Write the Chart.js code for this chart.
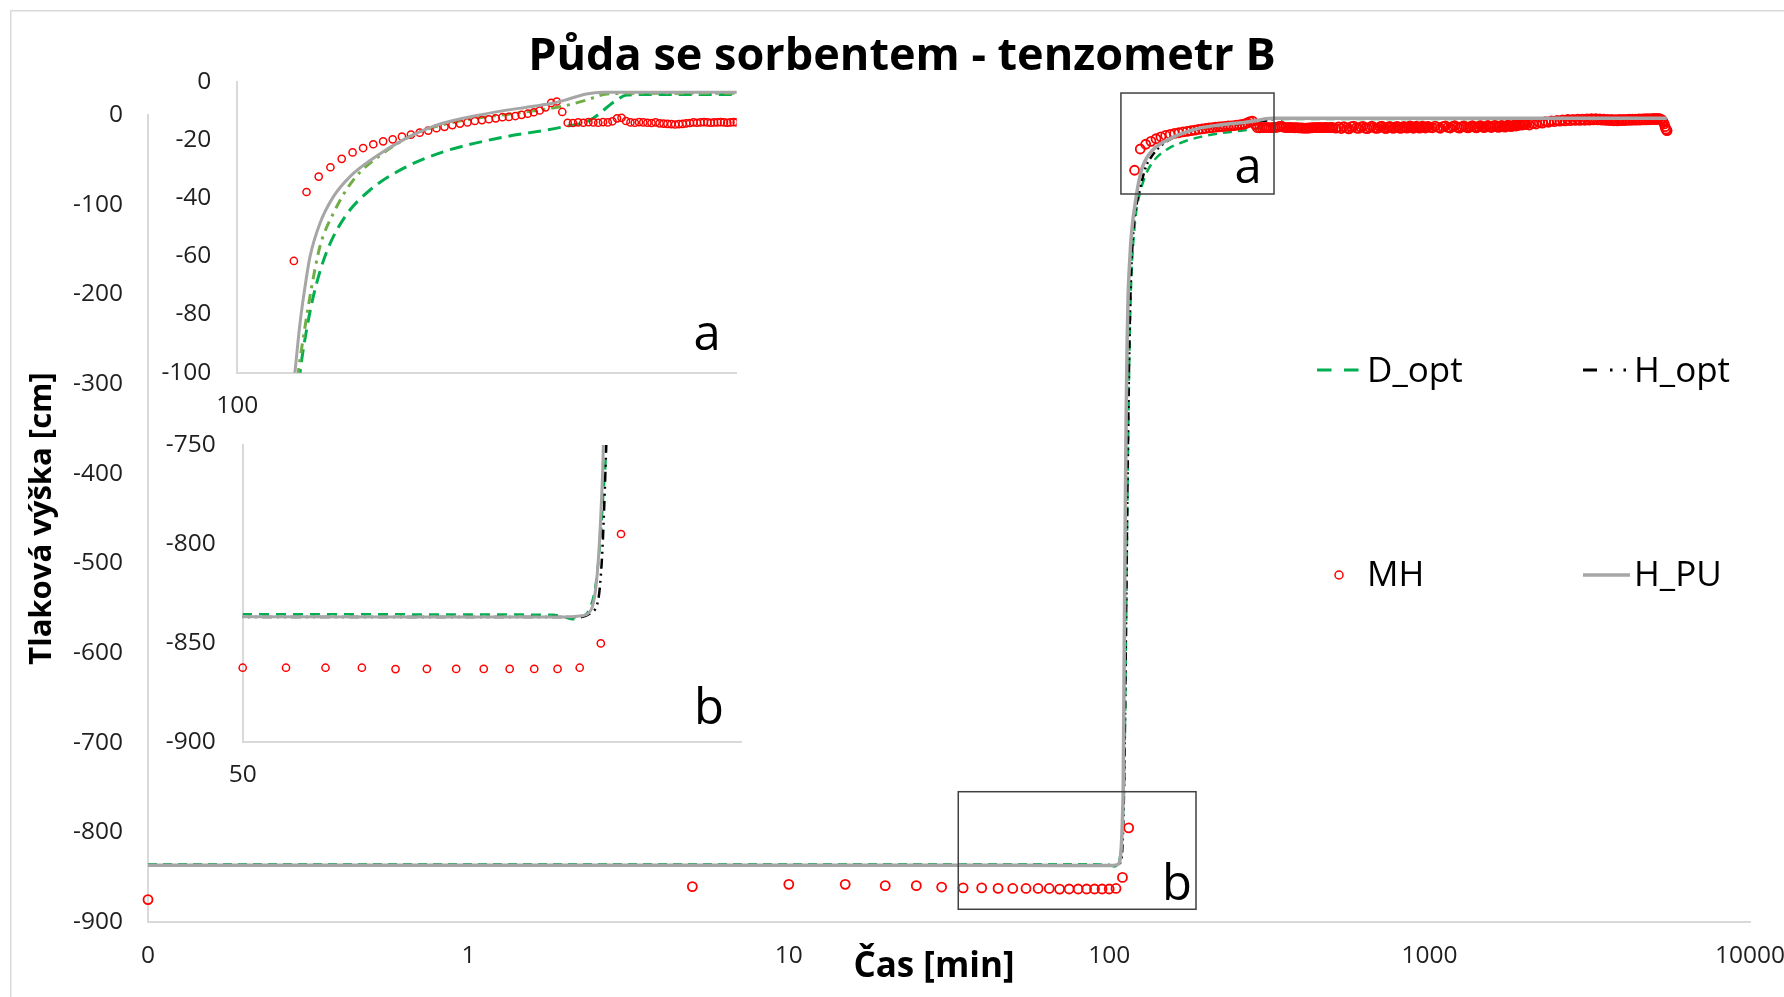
<!DOCTYPE html>
<html>
<head>
<meta charset="utf-8">
<script src="https://cdn.jsdelivr.net/npm/chart.js@4.4.0/dist/chart.umd.min.js"></script>
<style>
  html, body { margin: 0; padding: 0; background: #ffffff; overflow: hidden; }
  #wrap { position: relative; width: 1784px; height: 997px; }
  #wrap canvas { position: absolute; }
</style>
</head>
<body>
<div id="wrap">
  <canvas id="main" width="1784" height="997" style="left:0px;top:0px"></canvas>
  <canvas id="insetA" width="600" height="370" style="left:150px;top:60px"></canvas>
  <canvas id="insetB" width="600" height="380" style="left:150px;top:420px"></canvas>
</div>
<script>
// ---------------- DATA ----------------
const chartTitle = 'Půda se sorbentem - tenzometr B';
const xAxisTitle = 'Čas [min]';
const yAxisTitle = 'Tlaková výška [cm]';

const xTickValues = [0.1, 1, 10, 100, 1000, 10000];
const xTickLabels = ['0', '1', '10', '100', '1000', '10000'];
const insetATickValues = [100];
const insetATickLabels = ['100'];
const insetBTickValues = [50];
const insetBTickLabels = ['50'];

// zoomed regions shown in the insets (data units)
const zoomBoxA = [108.8, 326.9, -88.1, 24.5];   // xMin, xMax, yMin, yMax
const zoomBoxB = [33.8, 186.6, -885.8, -754.7];

// D_opt (model)
const dOptTime = [0.1, 50, 99, 101.5, 103.5, 105.5, 107.5, 108.8, 109.8, 110.6, 111.3, 112, 113, 114, 115, 116, 117, 118, 119, 120, 121, 122.4, 125, 128.4, 133.4, 141.5, 153.4, 170.7, 194.2, 230.7, 286, 311.6, 339.6, 350.7, 370, 1000, 5500];
const dOptHead = [-835.6, -835.6, -835.8, -837, -838.1, -837, -832, -820, -800, -775, -750, -680, -560, -430, -320, -240, -190, -160, -140, -125, -112, -100, -85.3, -71.6, -58.4, -46.4, -37.2, -29.8, -24.1, -19.5, -15.5, -13.2, -6.3, -4.6, -4.4, -4.4, -4.4];

// H_opt (model)
const hOptTime = [0.1, 50, 105, 107.5, 109.4, 110.2, 110.6, 111.3, 112, 113, 114, 115, 116, 117, 118, 119, 120.5, 121.7, 124.4, 127.1, 130.5, 136.3, 145.3, 160, 178.2, 202.8, 243.4, 286, 308, 328.9, 350, 1000, 5500];
const hOptHead = [-837.0, -837.0, -837.0, -835, -828, -810, -793, -750, -680, -550, -420, -310, -230, -180, -150, -128, -110, -100, -84.2, -70.4, -56.7, -45.2, -33.8, -24.6, -17.7, -13.7, -10.9, -8.4, -6.3, -4.2, -4.0, -4.0, -4.0];

// H_PU (model)
const hPuTime = [0.1, 50, 101.3, 104.5, 107, 108.2, 109, 109.6, 110.2, 110.6, 111.4, 112.2, 113, 113.8, 114.6, 115.5, 116.5, 117.5, 118.5, 119.5, 120.4, 122.4, 124.4, 126.4, 130.5, 136.3, 143.8, 155, 170.7, 190.1, 218.6, 256.8, 274, 286, 308, 325, 1000, 5500];
const hPuHead = [-836.8, -836.8, -837.0, -836.6, -835.1, -830, -818.3, -801.4, -776, -750, -600, -450, -330, -250, -200, -172, -148, -131, -118, -108, -100, -83, -70.4, -60.1, -48.7, -39.5, -32.6, -26.3, -20.0, -14.9, -11.4, -8.6, -7.6, -6.5, -4.2, -3.6, -3.6, -3.6];

// MH (measured) - before wetting front
const mhTimeDry = [0.1, 5, 10, 15, 20, 25, 30, 35, 40, 45, 50, 55, 60, 65, 70, 75, 80, 85, 90, 95, 100, 105, 110, 115];
const mhHeadDry = [-875, -860.5, -858, -858, -859.5, -859.5, -861, -862, -862, -862.5, -862.6, -862.6, -862.6, -862.6, -863.3, -863.2, -863.2, -863.2, -863.2, -863.2, -863.2, -862.6, -850.3, -795];

// MH - wetting (120 .. 500 min)
const mhTimeWet = [120, 125, 130, 135, 140, 145, 150, 155, 160, 165, 170, 175, 180, 185, 190, 195, 200, 205, 210, 215, 220, 225, 230, 235, 240, 245, 250, 255, 260, 265, 270, 275, 280, 285, 290,
  295, 300, 305, 310, 315, 320, 325, 330, 335, 340, 345, 350, 355, 360, 365, 370, 375, 380, 385, 390, 395, 400, 405, 410, 415, 420, 425, 430, 435, 440, 445, 450, 455, 460, 465, 470, 475, 480, 485, 490, 495, 500];
const mhHeadWet = [-61.6, -37.9, -32.6, -29.4, -26.5, -24.3, -22.8, -21.5, -20.5, -19.8, -18.9, -18.2, -17.5, -16.8, -16.0, -15.5, -14.9, -14.4, -14.0, -13.5, -13.2, -12.9, -12.6, -12.2, -12.1, -11.8, -11.4, -11.0, -10.5, -9.9, -8.8, -7.3, -6.8, -10.4, -14.1,
  -14.2, -14.0, -14.1, -13.9, -14.0, -14.1, -13.9, -14.0, -13.6, -12.6, -12.4, -13.5, -14.0, -14.1, -13.9, -14.0, -14.1, -14.2, -14.0, -14.3, -14.4, -14.5, -14.6, -14.7, -14.6, -14.5, -14.3, -14.2, -14.0, -14.1, -14.0, -13.9, -14.0, -14.1, -14.0, -14.0, -13.9, -14.0, -14.1, -14.0, -13.9, -14.0];

// MH - long-term (510 .. 1000 min)
const mhTimeLate1 = [510, 520, 530, 540, 550, 560, 570, 580, 590, 600, 610, 620, 630, 640, 650, 660, 670, 680, 690, 700, 710, 720, 730, 740, 750, 760, 770, 780, 790, 800, 810, 820, 830, 840, 850, 860, 870, 880, 890, 900, 910, 920, 930, 940, 950, 960, 970, 980, 990, 1000];
const mhHeadLate1 = [-14.6, -13.2, -15.1, -12.9, -14.3, -15.4, -13.0, -12.4, -14.5, -15.0,
  -13.4, -12.6, -14.8, -15.3, -13.7, -12.3, -13.9, -15.0, -14.6, -13.1,
  -12.5, -14.2, -15.2, -13.8, -12.7, -13.5, -14.9, -14.1, -12.6, -13.3,
  -15.0, -14.4, -12.8, -13.6, -14.7, -13.0, -12.2, -13.9, -14.8, -13.4,
  -12.5, -13.7, -14.6, -13.2, -12.4, -13.8, -14.5, -13.0, -12.6, -13.9];

// MH - long-term (1020 .. 2000 min)
const mhTimeLate2 = [1020, 1040, 1060, 1080, 1100, 1120, 1140, 1160, 1180, 1200, 1220, 1240, 1260, 1280, 1300, 1320, 1340, 1360, 1380, 1400, 1420, 1440, 1460, 1480, 1500, 1520, 1540, 1560, 1580, 1600, 1620, 1640, 1660, 1680, 1700, 1720, 1740, 1760, 1780, 1800, 1820, 1840, 1860, 1880, 1900, 1920, 1940, 1960, 1980, 2000];
const mhHeadLate2 = [-14.2, -12.4, -13.6, -14.8, -13.0, -12.1, -13.9, -14.5, -12.8, -12.0,
  -13.7, -14.6, -13.1, -12.2, -13.5, -14.4, -12.9, -11.9, -13.4, -14.3,
  -13.0, -11.8, -13.2, -14.1, -12.7, -11.7, -13.3, -14.0, -12.5, -11.6,
  -13.1, -13.8, -12.3, -11.5, -12.9, -13.5, -12.0, -11.3, -12.6, -13.0,
  -11.8, -11.2, -12.3, -11.9, -10.9, -10.6, -11.4, -10.5, -10.2, -10.6];

// MH - long-term (2050 .. 5510 min)
const mhTimeLate3 = [2050, 2100, 2150, 2200, 2250, 2300, 2350, 2400, 2450, 2500, 2550, 2600, 2650, 2700, 2750, 2800, 2850, 2900, 2950, 3000, 3050, 3100, 3150, 3200, 3250, 3300, 3350, 3400, 3450, 3500, 3550, 3600, 3650, 3700, 3750, 3800, 3850, 3900, 3950, 4000, 4050, 4100, 4150, 4200, 4250, 4300, 4350, 4400, 4450, 4500, 4550, 4600, 4650, 4700, 4750, 4800, 4850, 4900, 4950, 5000, 5050, 5100, 5150, 5200, 5250, 5300,
  5350, 5400, 5430, 5460, 5490, 5510];
const mhHeadLate3 = [-11.2, -9.6, -10.1, -8.4, -9.0, -7.3, -8.1, -6.5, -7.4, -5.9,
  -6.9, -5.4, -6.6, -5.0, -6.3, -4.8, -6.1, -4.6, -6.0, -4.5,
  -5.9, -4.4, -5.7, -4.2, -5.5, -4.1, -5.4, -4.3, -5.8, -4.6,
  -6.1, -4.8, -6.3, -5.0, -6.4, -5.1, -6.5, -5.0, -6.3, -4.9,
  -6.2, -4.8, -6.0, -4.7, -5.9, -4.6, -5.8, -4.5, -5.7, -4.4,
  -5.6, -4.3, -5.5, -4.2, -5.4, -4.1, -5.3, -4.0, -5.2, -3.9,
  -5.1, -3.8, -5.0, -3.7, -4.9, -5.2,
  -7.0, -10.0, -13.0, -15.5, -17.0, -17.5];

// ---------------- HELPERS ----------------
function pair(xs, ys, name) {
  if (xs.length !== ys.length) throw new Error(name + ' length mismatch: ' + xs.length + ' vs ' + ys.length);
  return xs.map((x, i) => ({ x: x, y: ys[i] }));
}
const FONT = '"Open Sans", sans-serif';
const TICK_COLOR = '#1f1f1f';
const AXIS_COLOR = '#D9D9D9';
const TICK_SIZE = 24.5;
const GREEN = '#00B050', BLACK = '#000000', RED = '#FF0000', GRAY = '#A6A6A6', OLIVE = '#70AD47';

const dOptPts = pair(dOptTime, dOptHead, 'D_opt');
const hOptPts = pair(hOptTime, hOptHead, 'H_opt');
const hPuPts = pair(hPuTime, hPuHead, 'H_PU');
const mhPts = [].concat(
  pair(mhTimeDry, mhHeadDry, 'MH dry'),
  pair(mhTimeWet, mhHeadWet, 'MH wet'),
  pair(mhTimeLate1, mhHeadLate1, 'MH late1'),
  pair(mhTimeLate2, mhHeadLate2, 'MH late2'),
  pair(mhTimeLate3, mhHeadLate3, 'MH late3')
);

function fixedTicks(values) { return function (scale) { scale.ticks = values.map(v => ({ value: v })); }; }
function fitX(h) { return function (s) { s.height = h; s.paddingLeft = 0; s.paddingRight = 0; }; }
function fitY(w) { return function (s) { s.width = w; s.paddingTop = 0; s.paddingBottom = 0; }; }

function lineDs(label, data, color, width, dash, order) {
  return { label: label, data: data, borderColor: color, backgroundColor: color, borderWidth: width,
    borderDash: dash, pointRadius: 0, pointHoverRadius: 0, fill: false,
    cubicInterpolationMode: 'monotone', order: order };
}
function markerDs(label, data, radius, border, clip, order) {
  return { label: label, data: data, showLine: false, pointStyle: 'circle', pointRadius: radius,
    pointBorderWidth: border, pointBorderColor: RED, pointBackgroundColor: 'rgba(255,255,255,0)',
    borderColor: RED, backgroundColor: 'rgba(255,255,255,0)', clip: clip, order: order };
}

function axisX(cfg) {
  return Object.assign({
    type: 'logarithmic',
    grid: { display: false, drawTicks: false },
    border: { display: true, color: AXIS_COLOR, width: 2 }
  }, cfg);
}
function axisY(cfg) {
  return Object.assign({
    type: 'linear',
    grid: { display: false, drawTicks: false },
    border: { display: true, color: AXIS_COLOR, width: 2 }
  }, cfg);
}
function xTicks(labels, padding) {
  return { font: { size: TICK_SIZE, family: FONT }, color: TICK_COLOR, autoSkip: false, maxRotation: 0, minRotation: 0,
    padding: padding, callback: (v, i) => labels[i] };
}
function yTicks(step, padding) {
  return { stepSize: step, font: { size: TICK_SIZE, family: FONT }, color: TICK_COLOR, padding: padding };
}

function drawText(ctx, text, x, y, font, align, color, baseline) {
  ctx.save();
  ctx.font = font; ctx.fillStyle = color || '#000'; ctx.textAlign = align || 'left';
  ctx.textBaseline = baseline || 'alphabetic';
  ctx.fillText(text, x, y);
  ctx.restore();
}

// ---------------- MAIN CHART ----------------
const legendLayout = [
  { label: 'D_opt', kind: 'line', x1: 1317, x2: 1359, y: 370, dash: [14.5, 12.5], color: GREEN, width: 3, tx: 1367, ty: 382 },
  { label: 'H_opt', kind: 'line', x1: 1583, x2: 1627, y: 370, dash: [14, 13, 2.5, 11, 2.5, 40], color: BLACK, width: 3, tx: 1634, ty: 382 },
  { label: 'MH', kind: 'marker', x1: 1339, y: 575, color: RED, tx: 1367, ty: 586 },
  { label: 'H_PU', kind: 'line', x1: 1583, x2: 1630, y: 575, dash: [], color: GRAY, width: 3.5, tx: 1634, ty: 586 }
];

const mainDecor = {
  id: 'mainDecor',
  beforeDraw(chart) {
    const ctx = chart.ctx;
    ctx.save();
    ctx.strokeStyle = AXIS_COLOR; ctx.lineWidth = 1.5;
    ctx.strokeRect(10.75, 10.75, 1800, 1000);
    ctx.restore();
  },
  afterDatasetsDraw(chart) {
    const ctx = chart.ctx, xs = chart.scales.x, ys = chart.scales.y;
    ctx.save();
    ctx.strokeStyle = '#404040'; ctx.lineWidth = 1.5; ctx.setLineDash([]);
    [zoomBoxA, zoomBoxB].forEach(b => {
      const x1 = xs.getPixelForValue(b[0]), x2 = xs.getPixelForValue(b[1]);
      const y1 = ys.getPixelForValue(b[3]), y2 = ys.getPixelForValue(b[2]);
      ctx.strokeRect(x1, y1, x2 - x1, y2 - y1);
    });
    ctx.restore();
  },
  afterDraw(chart) {
    const ctx = chart.ctx;
    drawText(ctx, chartTitle, 902, 70, 'bold 45px ' + FONT, 'center', '#000');
    drawText(ctx, xAxisTitle, 934, 967, 'bold 35px ' + FONT, 'center', '#000', 'middle');
    drawText(ctx, 'a', 1248, 183, '49px ' + FONT, 'center', '#000');
    drawText(ctx, 'b', 1177, 900, '49px ' + FONT, 'center', '#000');
    legendLayout.forEach(it => {
      ctx.save();
      if (it.kind === 'line') {
        ctx.strokeStyle = it.color; ctx.lineWidth = it.width; ctx.lineCap = 'butt';
        ctx.setLineDash(it.dash);
        ctx.beginPath(); ctx.moveTo(it.x1, it.y); ctx.lineTo(it.x2, it.y); ctx.stroke();
      } else {
        ctx.strokeStyle = it.color; ctx.lineWidth = 1.5;
        ctx.beginPath(); ctx.arc(it.x1, it.y, 4, 0, Math.PI * 2); ctx.stroke();
      }
      ctx.restore();
      drawText(ctx, it.label, it.tx, it.ty, '35px ' + FONT, 'left', '#000');
    });
  }
};

Chart.defaults.font.family = FONT;

new Chart(document.getElementById('main'), {
  type: 'line',
  data: {
    datasets: [
      lineDs('H_PU', hPuPts, GRAY, 3.5, [], 0),
      markerDs('MH', mhPts, 4.5, 1.8, 10, 1),
      lineDs('H_opt', hOptPts, BLACK, 2.5, [8, 4, 2, 4, 2, 4], 2),
      lineDs('D_opt', dOptPts, GREEN, 2.5, [9, 6], 3)
    ]
  },
  options: {
    responsive: false, animation: false, events: [],
    layout: { padding: { left: 12, top: 115, right: 34, bottom: 6 } },
    plugins: { legend: { display: false }, tooltip: { enabled: false }, title: { display: false } },
    scales: {
      x: axisX({
        min: 0.1, max: 10000,
        afterBuildTicks: fixedTicks(xTickValues),
        ticks: xTicks(xTickLabels, 19.6),
        afterFit: fitX(69)
      }),
      y: axisY({
        min: -900, max: 0,
        ticks: yTicks(100, 25),
        title: { display: true, text: yAxisTitle, color: '#000', font: { size: 31, weight: 'bold', family: FONT }, padding: { top: 12, bottom: 0 } },
        afterFit: fitY(136)
      })
    }
  },
  plugins: [mainDecor]
});

// ---------------- INSET a ----------------
new Chart(document.getElementById('insetA'), {
  type: 'line',
  data: {
    datasets: [
      lineDs('H_PU', hPuPts, GRAY, 3, [], 0),
      markerDs('MH', mhPts, 3.6, 1.5, { left: 8, top: 8, right: 0, bottom: 8 }, 1),
      lineDs('H_opt', hOptPts, OLIVE, 3, [10, 6, 3, 6], 2),
      lineDs('D_opt', dOptPts, GREEN, 3, [13, 7], 3)
    ]
  },
  options: {
    responsive: false, animation: false, events: [],
    layout: { padding: { left: 0, top: 21.7, right: 13.3, bottom: 0 } },
    plugins: { legend: { display: false }, tooltip: { enabled: false } },
    scales: {
      x: axisX({
        min: 100, max: 500,
        afterBuildTicks: fixedTicks(insetATickValues),
        ticks: xTicks(insetATickLabels, 19),
        afterFit: fitX(57.3)
      }),
      y: axisY({
        min: -100, max: 0,
        ticks: yTicks(20, 26),
        afterFit: fitY(87.3)
      })
    }
  },
  plugins: [{ id: 'letterA', afterDraw(chart) { drawText(chart.ctx, 'a', 557, 290, '49px ' + FONT, 'center', '#000'); } }]
});

// ---------------- INSET b ----------------
new Chart(document.getElementById('insetB'), {
  type: 'line',
  data: {
    datasets: [
      lineDs('H_PU', hPuPts, GRAY, 3, [], 0),
      markerDs('MH', mhPts, 3.6, 1.5, { left: 8, top: 0, right: 8, bottom: 8 }, 1),
      lineDs('H_opt', hOptPts, BLACK, 2.5, [10, 5, 2, 5, 2, 5], 2),
      lineDs('D_opt', dOptPts, GREEN, 2.5, [10, 7], 3)
    ]
  },
  options: {
    responsive: false, animation: false, events: [],
    layout: { padding: { left: 0, top: 25, right: 8.3, bottom: 0 } },
    plugins: { legend: { display: false }, tooltip: { enabled: false } },
    scales: {
      x: axisX({
        min: 50, max: 150,
        afterBuildTicks: fixedTicks(insetBTickValues),
        ticks: xTicks(insetBTickLabels, 19),
        afterFit: fitX(58.3)
      }),
      y: axisY({
        min: -900, max: -750,
        ticks: yTicks(50, 27),
        afterFit: fitY(92.7)
      })
    }
  },
  plugins: [{ id: 'letterB', afterDraw(chart) { drawText(chart.ctx, 'b', 559, 304, '49px ' + FONT, 'center', '#000'); } }]
});
</script>
</body>
</html>
